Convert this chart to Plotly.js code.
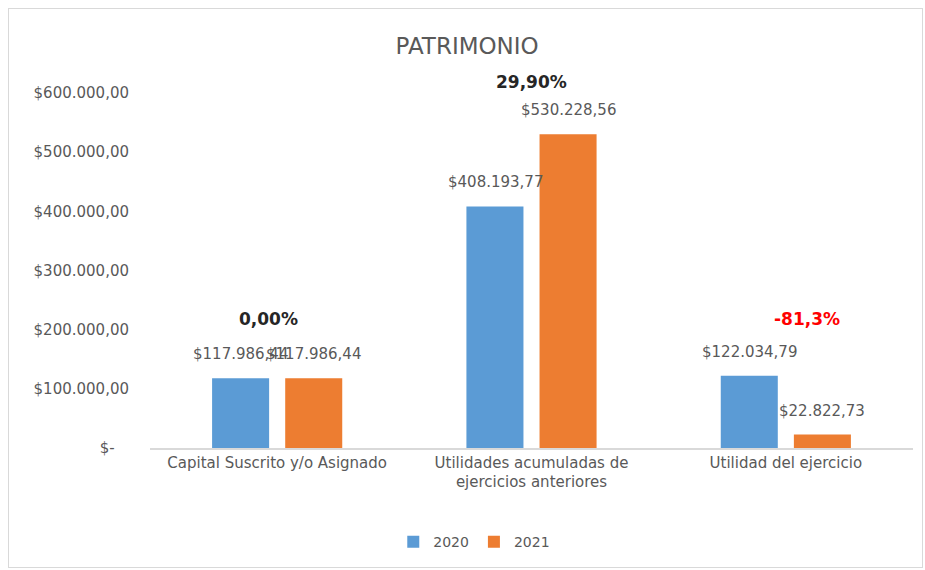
<!DOCTYPE html>
<html><head><meta charset="utf-8">
<script src="https://cdn.plot.ly/plotly-3.0.1.min.js"></script>
<style>html,body{margin:0;padding:0;background:#fff}#c{width:925px;height:570px;position:absolute;left:0;top:0}#b{position:absolute;left:8px;top:8px;width:915px;height:560px;border:1px solid #d9d9d9;pointer-events:none;box-sizing:border-box}</style>
</head><body><div id="c"></div><div id="b"></div>
<script>
const categories = ["Capital Suscrito y/o Asignado", "Utilidades acumuladas de<br>ejercicios anteriores", "Utilidad del ejercicio"];
const values2020 = [117986.44, 408193.77, 122034.79];
const values2021 = [117986.44, 530228.56, 22822.73];
const seriesNames = ["2020", "2021"];
const changeLabels = ["0,00%", "29,90%", "-81,3%"];
const tickVals = [0, 100000, 200000, 300000, 400000, 500000, 600000];
const tickText = ["$-\u00a0\u00a0\u00a0", "$100.000,00", "$200.000,00", "$300.000,00", "$400.000,00", "$500.000,00", "$600.000,00"];

function fmt(v){
  const parts = v.toFixed(2).split(".");
  const int = parts[0].replace(/\B(?=(\d{3})+(?!\d))/g, ".");
  return "$" + int + "," + parts[1];
}
const font = "'DejaVu Sans', sans-serif";
const gray = "#595959";
const colors = ["#5B9BD5", "#ED7D31"];
const series = [values2020, values2021];
const traces = series.map((vals, s) => ({
  type:"bar", name:seriesNames[s], x:categories, y:vals, marker:{color:colors[s]}, hoverinfo:"none"
}));
// value labels above each bar
const annotations = [];
const offs = [-36.5, 36.5];
series.forEach((vals, s) => {
  vals.forEach((v, i) => {
    annotations.push({x:categories[i], y:v, xref:"x", yref:"y", text:fmt(v), showarrow:false,
      xshift:offs[s], yshift:13, yanchor:"bottom", font:{size:15,color:gray,family:font}});
  });
});
// percentage change labels
const pctColors = ["#262626","#262626","#FF0000"];
const pctShift = [-9, 0, 21];
const pctY = [0.362, 1.031, 0.362];
changeLabels.forEach((t, i) => {
  annotations.push({x:categories[i], y:pctY[i], xref:"x", yref:"paper", text:"<b>"+t+"</b>", showarrow:false,
    xshift:pctShift[i], yanchor:"middle", font:{size:17,color:pctColors[i],family:font}});
});
const layout = {
  width:925, height:570,
  margin:{l:150, r:12, t:93, b:118},
  paper_bgcolor:"#fff", plot_bgcolor:"#fff",
  title:{text:"PATRIMONIO", x:0.505, xref:"container", xanchor:"center", y:0.919, yref:"container", yanchor:"middle",
    font:{size:23,color:gray,family:font}},
  font:{family:font,color:gray},
  barmode:"group", bargap:0.425, bargroupgap:0.22,
  xaxis:{showline:true, linecolor:"#d9d9d9", linewidth:1.5, ticks:"", tickfont:{size:15,color:gray,family:font}, fixedrange:true},
  yaxis:{range:[0,600000], tickvals:tickVals, ticktext:tickText, showgrid:false, zeroline:false, showline:false,
    tickfont:{size:15,color:gray,family:font}, ticklabelstandoff:20, fixedrange:true},
  showlegend:true,
  legend:{orientation:"h", x:0.425, xanchor:"center", y:-0.265, yanchor:"middle", font:{size:14,color:gray,family:font}, traceorder:"normal", itemwidth:30},
  annotations:annotations
};
Plotly.newPlot("c", traces, layout, {displayModeBar:false, staticPlot:true});
</script>
</body></html>
